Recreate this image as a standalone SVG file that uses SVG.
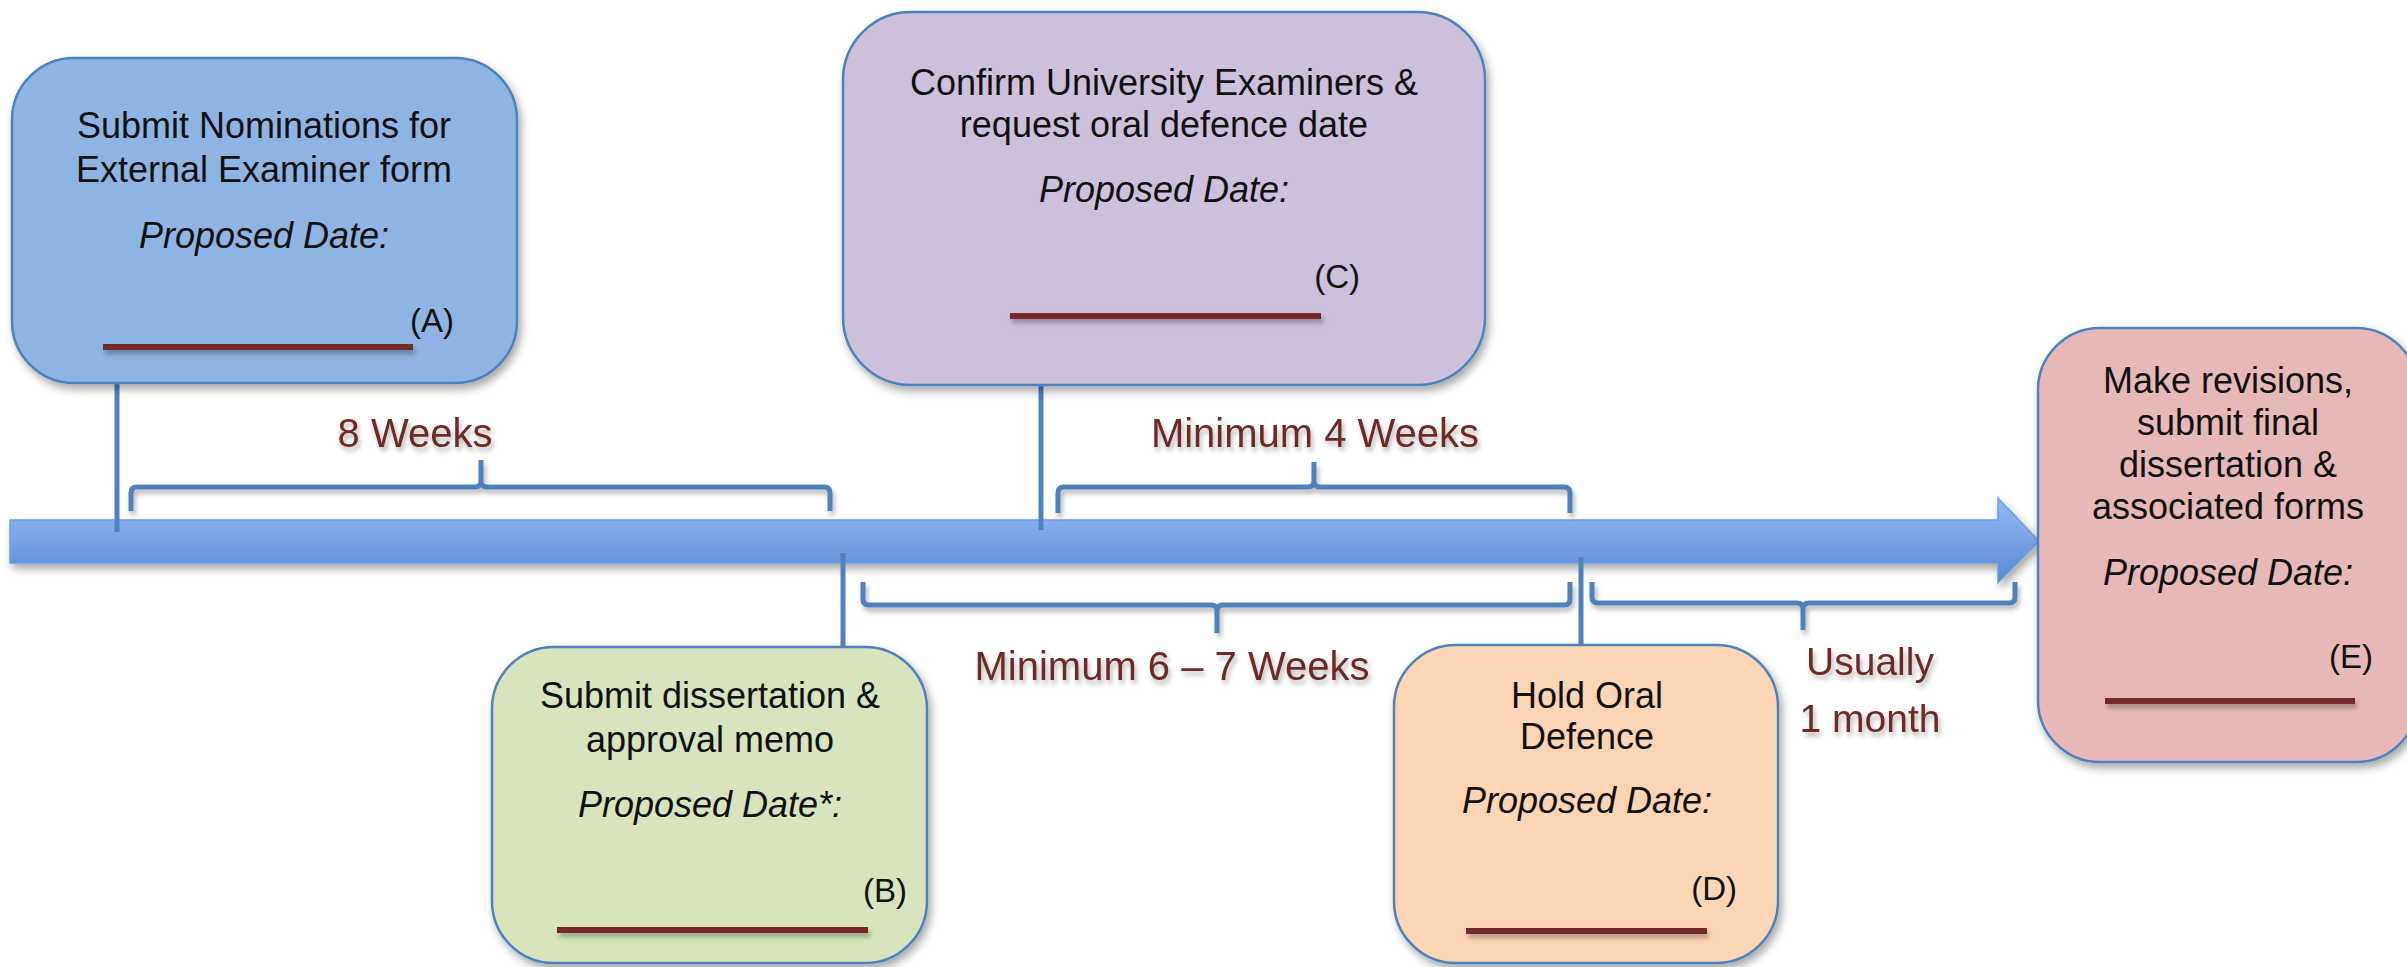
<svg xmlns="http://www.w3.org/2000/svg" width="2407" height="967" viewBox="0 0 2407 967">
<defs>
  <linearGradient id="arrowGrad" x1="0" y1="0" x2="0" y2="1">
    <stop offset="0" stop-color="#8fb6f2"/>
    <stop offset="0.5" stop-color="#78a4e6"/>
    <stop offset="1" stop-color="#5586cf"/>
  </linearGradient>
  <filter id="shadow" x="-10%" y="-10%" width="130%" height="130%">
    <feDropShadow dx="3" dy="5" stdDeviation="4" flood-color="#000" flood-opacity="0.35"/>
  </filter>
  <filter id="tshadow" filterUnits="userSpaceOnUse" x="0" y="0" width="2407" height="967">
    <feDropShadow dx="2" dy="4" stdDeviation="2.5" flood-color="#000" flood-opacity="0.3"/>
  </filter>
</defs>
<style>
  .box { stroke: #4f81bd; stroke-width: 2.5; filter: url(#shadow); }
  .t { font-family: "Liberation Sans", Arial, sans-serif; font-size: 36px; fill: #111; text-anchor: middle; }
  .pd { font-style: italic; }
  .lbl { font-family: "Liberation Sans", Arial, sans-serif; font-size: 33px; fill: #111; text-anchor: end; }
  .uline { fill: #742c2a; filter: url(#tshadow); }
  .conn { stroke: #4f81bd; stroke-width: 5; fill: none; }
  .brace { stroke: #4f81bd; stroke-width: 5; fill: none; filter: url(#tshadow); }
  .dur { font-family: "Liberation Sans", Arial, sans-serif; font-size: 40px; fill: #6e2a28; text-anchor: middle; filter: url(#tshadow); }
</style>
<rect width="2407" height="967" fill="#fff"/>

<g id="timeline">
  <polygon points="10,520 1998,520 1998,498 2039,541 1998,583 1998,563 10,563" fill="url(#arrowGrad)" stroke="#6f9de0" stroke-width="1.5" filter="url(#shadow)"/>
</g>

<g id="connectors">
  <line class="conn" x1="117" y1="383" x2="117" y2="532"/>
  <line class="conn" x1="1041" y1="385" x2="1041" y2="530"/>
  <line class="conn" x1="843" y1="553" x2="843" y2="647"/>
  <line class="conn" x1="1581" y1="557" x2="1581" y2="645"/>
  <path class="brace" d="M131,511 V493 Q131,487 137,487 H475 Q481,487 481,481 V460 M481,481 Q481,487 487,487 H824 Q830,487 830,493 V511"/>
  <path class="brace" d="M1058,513 V493 Q1058,487 1064,487 H1308 Q1314,487 1314,481 V462 M1314,481 Q1314,487 1320,487 H1564 Q1570,487 1570,493 V513"/>
  <path class="brace" d="M863,582 V599 Q863,605 869,605 H1211 Q1217,605 1217,611 V633 M1217,611 Q1217,605 1223,605 H1564 Q1570,605 1570,599 V582"/>
  <path class="brace" d="M1592,582 V597 Q1592,603 1598,603 H1797 Q1803,603 1803,609 V630 M1803,609 Q1803,603 1809,603 H2009 Q2015,603 2015,597 V582"/>
  <text class="dur" x="415" y="447">8 Weeks</text>
  <text class="dur" x="1315" y="447">Minimum 4 Weeks</text>
  <text class="dur" x="1172" y="680">Minimum 6 – 7 Weeks</text>
  <text class="dur" x="1870" y="675" style="font-size:39px">Usually</text>
  <text class="dur" x="1870" y="732" style="font-size:39px">1 month</text>
</g>

<g id="nodeA">
  <rect class="box" x="12" y="58" width="505" height="325" rx="62" ry="62" fill="#8eb4e3"/>
  <text class="t" x="264" y="138">Submit Nominations for</text>
  <text class="t" x="264" y="182">External Examiner form</text>
  <text class="t pd" x="264" y="248">Proposed Date:</text>
  <text class="lbl" x="454" y="332">(A)</text>
  <rect class="uline" x="103" y="344" width="310" height="6"/>
</g>

<g id="nodeC">
  <rect class="box" x="843" y="12" width="642" height="373" rx="68" ry="68" fill="#ccc0da"/>
  <text class="t" x="1164" y="95">Confirm University Examiners &amp;</text>
  <text class="t" x="1164" y="137">request oral defence date</text>
  <text class="t pd" x="1164" y="202">Proposed Date:</text>
  <text class="lbl" x="1360" y="288">(C)</text>
  <rect class="uline" x="1010" y="313" width="311" height="6"/>
</g>

<g id="nodeB">
  <rect class="box" x="492" y="647" width="435" height="316" rx="62" ry="62" fill="#d7e4bd"/>
  <text class="t" x="710" y="708">Submit dissertation &amp;</text>
  <text class="t" x="710" y="752">approval memo</text>
  <text class="t pd" x="710" y="817">Proposed Date*:</text>
  <text class="lbl" x="907" y="902">(B)</text>
  <rect class="uline" x="557" y="927" width="311" height="6"/>
</g>

<g id="nodeD">
  <rect class="box" x="1394" y="645" width="384" height="318" rx="62" ry="62" fill="#fcd5b5"/>
  <text class="t" x="1587" y="708">Hold Oral</text>
  <text class="t" x="1587" y="749">Defence</text>
  <text class="t pd" x="1587" y="813">Proposed Date:</text>
  <text class="lbl" x="1737" y="900">(D)</text>
  <rect class="uline" x="1466" y="928" width="241" height="6"/>
</g>

<g id="nodeE">
  <rect class="box" x="2038" y="328" width="380" height="434" rx="62" ry="62" fill="#e6b9b8"/>
  <text class="t" x="2228" y="393">Make revisions,</text>
  <text class="t" x="2228" y="435">submit final</text>
  <text class="t" x="2228" y="477">dissertation &amp;</text>
  <text class="t" x="2228" y="519">associated forms</text>
  <text class="t pd" x="2228" y="585">Proposed Date:</text>
  <text class="lbl" x="2373" y="668">(E)</text>
  <rect class="uline" x="2105" y="698" width="250" height="6"/>
</g>
</svg>
